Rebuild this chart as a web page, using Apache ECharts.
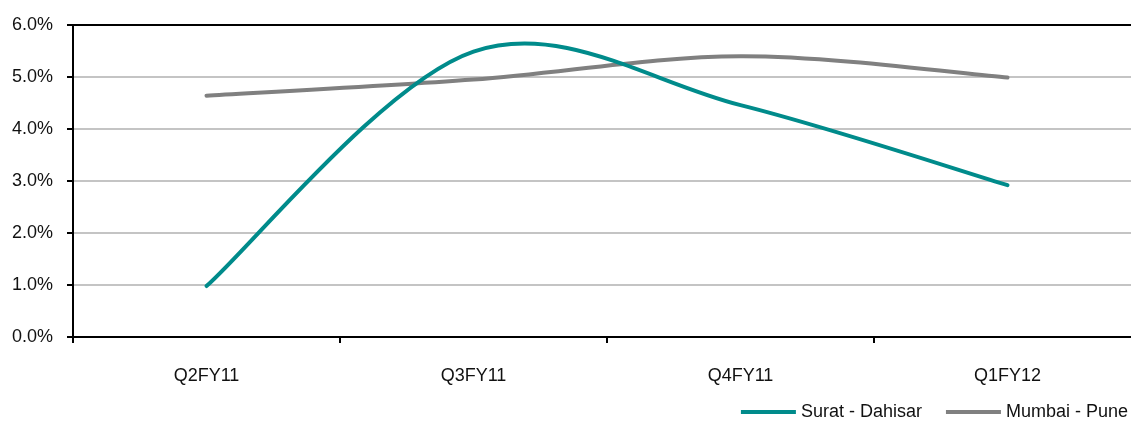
<!DOCTYPE html>
<html>
<head>
<meta charset="utf-8">
<script src="https://cdn.jsdelivr.net/npm/echarts@6/dist/echarts.min.js"></script>
<style>
html,body{margin:0;padding:0;background:#fff;}
#chart{width:1131px;height:424px;}
</style>
</head>
<body>
<div id="chart"></div>
<script>
const categories = ['Q2FY11', 'Q3FY11', 'Q4FY11', 'Q1FY12'];
const suratDahisar = [0.98, 5.49, 4.46, 2.92];
const mumbaiPune = [4.64, 4.95, 5.40, 4.99];
const seriesNames = ['Surat - Dahisar', 'Mumbai - Pune'];
const yTicks = { min: 0, max: 6, interval: 1 };

const FONT = 'Liberation Sans, Arial, sans-serif';

// Smooth curve (Catmull-Rom style, like spreadsheet smoothing) drawn through
// the data points, whose pixel positions come from the chart's own scales.
function smoothRenderer(values, color) {
  return function (params, api) {
    if (params.dataIndexInside !== 0) return null;
    const pts = values.map((v, i) => api.coord([i, v]));
    const n = pts.length;
    let d = 'M' + pts[0][0] + ' ' + pts[0][1];
    for (let i = 0; i < n - 1; i++) {
      const p0 = pts[Math.max(i - 1, 0)];
      const p1 = pts[i];
      const p2 = pts[i + 1];
      const p3 = pts[Math.min(i + 2, n - 1)];
      const c1x = p1[0] + (p2[0] - p0[0]) / 6;
      const c1y = p1[1] + (p2[1] - p0[1]) / 6;
      const c2x = p2[0] - (p3[0] - p1[0]) / 6;
      const c2y = p2[1] - (p3[1] - p1[1]) / 6;
      d += ' C' + c1x + ' ' + c1y + ' ' + c2x + ' ' + c2y + ' ' + p2[0] + ' ' + p2[1];
    }
    return {
      type: 'path',
      shape: { pathData: d },
      style: { fill: null, stroke: color, lineWidth: 4, lineCap: 'round', lineJoin: 'round' }
    };
  };
}

const colors = ['#008b8b', '#808080'];
const chart = echarts.init(document.getElementById('chart'), null, { renderer: 'canvas' });
chart.setOption({
  animation: false,
  backgroundColor: '#ffffff',
  color: colors,
  grid: { left: 73, width: 1068, top: 25, bottom: 87, containLabel: false, outerBoundsMode: 'none' },
  legend: {
    right: 3, top: 403, padding: 0,
    icon: 'rect', itemWidth: 55, itemHeight: 4, itemGap: 24,
    textStyle: { fontFamily: FONT, fontSize: 18, color: '#111' },
    data: seriesNames
  },
  xAxis: [{
    type: 'category', data: categories, boundaryGap: true,
    axisLine: { lineStyle: { color: '#000', width: 2 } },
    axisTick: { show: true, length: 6, lineStyle: { color: '#000', width: 2 } },
    axisLabel: { margin: 30, fontFamily: FONT, fontSize: 18, color: '#111' },
    splitLine: { show: false }
  }, {
    type: 'category', data: categories, position: 'top',
    axisLine: { lineStyle: { color: '#000', width: 2 } },
    axisTick: { show: false }, axisLabel: { show: false }, splitLine: { show: false }
  }],
  yAxis: {
    type: 'value', min: yTicks.min, max: yTicks.max, interval: yTicks.interval,
    axisLine: { show: true, lineStyle: { color: '#000', width: 2 } },
    axisTick: { show: true, length: 6, lineStyle: { color: '#000', width: 2 } },
    axisLabel: { margin: 20, fontFamily: FONT, fontSize: 18, color: '#111',
      formatter: v => v.toFixed(1) + '%' },
    splitLine: { show: true, lineStyle: { color: '#c4c4c4', width: 2 } }
  },
  series: [{
    name: seriesNames[0], type: 'custom', clip: false, z: 3,
    itemStyle: { color: colors[0] },
    encode: { x: 0, y: 1 },
    data: suratDahisar.map((v, i) => [i, v]),
    renderItem: smoothRenderer(suratDahisar, colors[0])
  }, {
    name: seriesNames[1], type: 'custom', clip: false, z: 2,
    itemStyle: { color: colors[1] },
    encode: { x: 0, y: 1 },
    data: mumbaiPune.map((v, i) => [i, v]),
    renderItem: smoothRenderer(mumbaiPune, colors[1])
  }]
});
</script>
</body>
</html>
